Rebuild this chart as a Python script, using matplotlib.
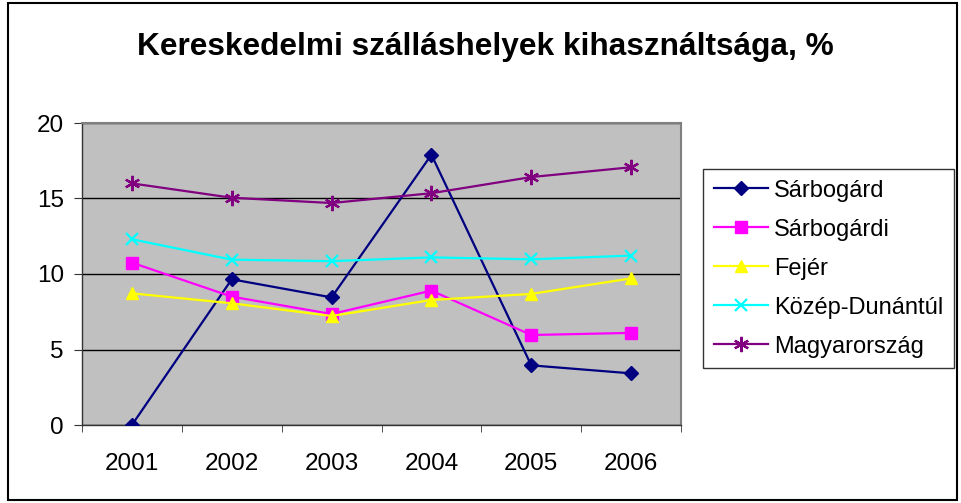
import matplotlib
matplotlib.use("Agg")
import matplotlib.pyplot as plt
import matplotlib.patches as mpatches
import numpy as np

plt.rcParams["font.family"] = ["Liberation Sans", "DejaVu Sans"]

# ── data ──────────────────────────────────────────────────────────────────────
years = ["2001", "2002", "2003", "2004", "2005", "2006"]

sarbogard      = [0.0, 9.65, 8.45, 17.9, 3.95, 3.42]
sarbogardi     = [10.75, 8.5, 7.35, 8.9, 5.96, 6.1]
fejer          = [8.72, 8.06, 7.22, 8.28, 8.68, 9.71]
kozep_dunantul = [12.3, 10.95, 10.85, 11.1, 10.97, 11.22]
magyarorszag   = [16.0, 15.05, 14.7, 15.35, 16.42, 17.07]

series_names = ["Sárbogárd", "Sárbogárdi", "Fejér", "Közép-Dunántúl", "Magyarország"]

# ── styles ────────────────────────────────────────────────────────────────────
STYLES = [
    dict(color="#000080", marker="D", ms=7),
    dict(color="#FF00FF", marker="s", ms=8),
    dict(color="#FFFF00", marker="^", ms=9),
    dict(color="#00FFFF", marker="x", ms=9, mew=1.6),
    dict(color="#800080", marker=(6, 2, 0), ms=11, mew=1.6),
]

fig = plt.figure(figsize=(9.61, 5.03), dpi=100)
fig.patch.set_facecolor("white")

# outer chart border
fig.patches.append(mpatches.Rectangle((8 / 961, 3 / 503), 949 / 961, 497 / 503,
                                      transform=fig.transFigure, fill=False,
                                      edgecolor="black", linewidth=1.5))

ax = fig.add_axes([82 / 961, 78 / 503, 599 / 961, 302 / 503])
ax.set_facecolor("#C0C0C0")

x = np.arange(len(years))
all_series = [sarbogard, sarbogardi, fejer, kozep_dunantul, magyarorszag]
for name, vals, st in zip(series_names, all_series, STYLES):
    ax.plot(x, vals, color=st["color"], linewidth=1.6, marker=st["marker"],
            markersize=st["ms"], markeredgewidth=st.get("mew", 1.0),
            markerfacecolor=st["color"], markeredgecolor=st["color"],
            label=name, zorder=3)

ax.set_xlim(-0.5, len(years) - 0.5)
ax.set_ylim(0, 20)
ax.set_yticks([0, 5, 10, 15, 20])
ax.set_xticks(x)
ax.set_xticklabels(years)
ax.set_xticks(np.arange(-0.5, len(years)), minor=True)
ax.tick_params(axis="x", which="major", length=0, pad=20, labelsize=17.5)
ax.tick_params(axis="x", which="minor", length=5, direction="out", color="#333333")
ax.tick_params(axis="y", length=6, direction="out", color="#333333", labelsize=17.5, pad=7)

ax.grid(axis="y", color="black", linewidth=1.0)
ax.set_axisbelow(True)
for side in ["top", "right"]:
    ax.spines[side].set_color("#808080")
    ax.spines[side].set_linewidth(1.5)
for side in ["left", "bottom"]:
    ax.spines[side].set_color("#333333")
    ax.spines[side].set_linewidth(1.0)

fig.text(0.505, 0.906, "Kereskedelmi szálláshelyek kihasználtsága, %",
         ha="center", va="center", fontsize=22.8, fontweight="bold")

leg = fig.legend(loc="upper left", bbox_to_anchor=(703 / 961, 1 - 169 / 503),
                 frameon=True, fancybox=False, edgecolor="black", fontsize=17,
                 handlelength=2.3, labelspacing=0.72, borderpad=0.45,
                 handletextpad=0.25, borderaxespad=0)
leg.get_frame().set_linewidth(1.0)

fig.savefig("out.png", dpi=100, facecolor=fig.get_facecolor())
